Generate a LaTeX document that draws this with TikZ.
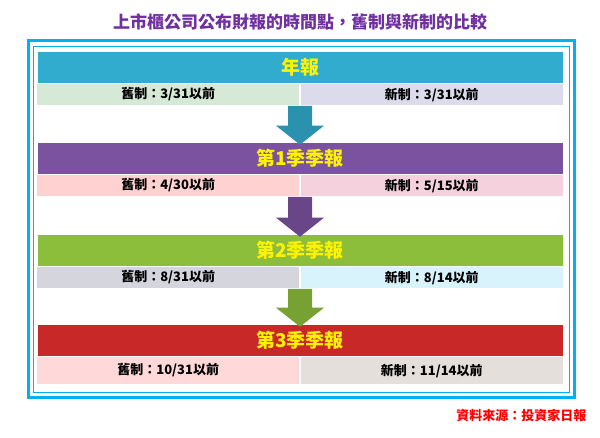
\documentclass[tikz,border=0pt]{standalone}
\usepackage{fontspec}
\setmainfont{Noto Sans CJK TC}
\usetikzlibrary{positioning}
\definecolor{titlePurple}{RGB}{112,48,160}
\definecolor{frameBlue}{RGB}{0,176,240}
\definecolor{barCyan}{RGB}{49,172,206}
\definecolor{barPurple}{RGB}{122,82,160}
\definecolor{barGreen}{RGB}{140,190,60}
\definecolor{barRed}{RGB}{200,40,40}
\tikzset{
  headbar/.style={draw=white,line width=0.6pt,minimum width=526pt,minimum height=32pt,
    inner sep=0pt,text=yellow,font=\bfseries\fontsize{19}{19}\selectfont},
  subbar/.style={draw=white,line width=0.6pt,minimum width=263pt,minimum height=22pt,
    inner sep=0pt,font=\bfseries\fontsize{13}{13}\selectfont}
}
% arrow from #1 down to #2
\newcommand{\blockarrow}[3]{%
  \fill[#3] ([xshift=-12pt]#1) -- ([xshift=12pt]#1) -- ([xshift=12pt,yshift=16pt]#2)
    -- ([xshift=24pt,yshift=16pt]#2) -- ([yshift=-3pt]#2) -- ([xshift=-24pt,yshift=16pt]#2)
    -- ([xshift=-12pt,yshift=16pt]#2) -- cycle;}
\begin{document}
\begin{tikzpicture}[x=1pt,y=-1pt]
  \useasboundingbox (0,0) rectangle (600,438);
  \node[font=\bfseries\fontsize{17}{17}\selectfont,text=titlePurple] (title) at (300,22)
    {上市櫃公司公布財報的時間點，舊制與新制的比較};
  \draw[frameBlue,line width=3pt] (28,41) rectangle (574,397);
  \draw[frameBlue,line width=0.6pt] (33,46) rectangle (569,392);

  % annual report
  \node[headbar,fill=barCyan] (annual) at (300,67) {年報};
  \node[subbar,fill=green!30!gray!25,anchor=north east] (annOld) at (annual.south) {舊制：3/31以前};
  \node[subbar,fill=blue!30!gray!22,anchor=north west] (annNew) at (annual.south) {新制：3/31以前};

  % Q1
  \node[headbar,fill=barPurple] (qone) at (300,158) {第1季季報};
  \node[subbar,fill=red!18!white,anchor=north east] (qoneOld) at (qone.south) {舊制：4/30以前};
  \node[subbar,fill=purple!18!white,anchor=north west] (qoneNew) at (qone.south) {新制：5/15以前};

  % Q2
  \node[headbar,fill=barGreen] (qtwo) at (300,250) {第2季季報};
  \node[subbar,fill=blue!10!gray!30,anchor=north east] (qtwoOld) at (qtwo.south) {舊制：8/31以前};
  \node[subbar,fill=cyan!15!white,anchor=north west] (qtwoNew) at (qtwo.south) {新制：8/14以前};

  % Q3
  \node[headbar,fill=barRed] (qthree) at (300,340) {第3季季報};
  \node[subbar,fill=red!15!white,minimum height=28pt,anchor=north east] (qthreeOld) at (qthree.south) {舊制：10/31以前};
  \node[subbar,fill=orange!15!gray!25,minimum height=28pt,anchor=north west] (qthreeNew) at (qthree.south) {新制：11/14以前};

  % arrows between blocks
  \blockarrow{annOld.south east}{qone.north}{barCyan!85!black}
  \blockarrow{qoneOld.south east}{qtwo.north}{barPurple!85!black}
  \blockarrow{qtwoOld.south east}{qthree.north}{barGreen!85!black}

  \node[font=\bfseries\fontsize{13}{13}\selectfont,text=red,anchor=east] (source) at (590,416)
    {資料來源：投資家日報};
\end{tikzpicture}
\end{document}
